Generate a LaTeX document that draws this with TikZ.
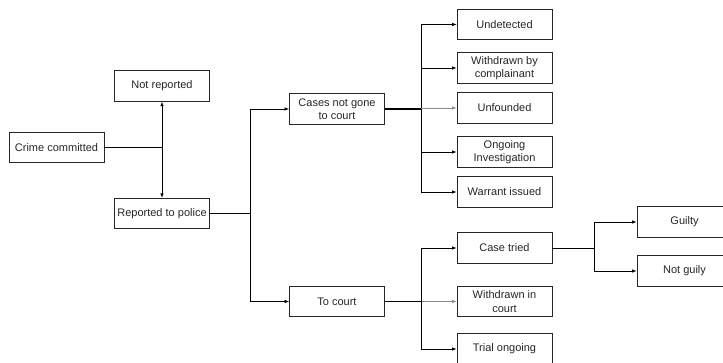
\documentclass[tikz,border=0pt]{standalone}
\usepackage{fontspec}
\setmainfont{Liberation Sans}
\usetikzlibrary{arrows.meta}
\begin{document}
\begin{tikzpicture}[x=1pt,y=-1pt,
  box/.style={draw=black!85,line width=0.8pt,minimum width=95pt,minimum height=30.5pt,
    inner sep=0pt,align=center,text=black!85,font=\fontsize{11}{13.5}\selectfont},
  trunk/.style={line width=1.2pt,black},
  branch/.style={line width=0.7pt,black,-{Latex[length=4.5pt,width=3.5pt]}},
  faint/.style={branch,draw=black!45},
  plain/.style={line width=0.7pt,black}]
\useasboundingbox (0,0) rectangle (723,363);
\node[box] (crime) at (56.5,147.5) {Crime committed};
\node[box] (notrep) at (162,86) {Not reported};
\node[box] (reported) at (162,213.5) {Reported to police};
\node[box] (cases) at (337,109) {Cases not gone\\to court};
\node[box] (tocourt) at (337,301.5) {To court};
\node[box] (undet) at (504.5,24.5) {Undetected};
\node[box] (wbc) at (504.5,68) {Withdrawn by\\complainant};
\node[box] (unf) at (504.5,108) {Unfounded};
\node[box] (ongo) at (504.5,152) {Ongoing\\Investigation};
\node[box] (warr) at (504.5,192) {Warrant issued};
\node[box] (tried) at (504.5,248) {Case tried};
\node[box] (wic) at (504.5,301.5) {Withdrawn in\\court};
\node[box] (trialong) at (504.5,349) {Trial ongoing};
\node[box] (guilty) at (684.5,222) {Guilty};
\node[box] (notg) at (684.5,271) {Not guily};
% junctions
\coordinate (j1) at (notrep.south |- crime.east);
\coordinate (j2) at (250,213.5);
\coordinate (j3) at (421,109);
\coordinate (j4) at (421,301.5);
\coordinate (j5) at (594,248);
% connectors
\draw[trunk] (crime.east) -- (j1);
\draw[branch] (j1) -- (notrep.south);
\draw[branch] (j1) -- (reported.north);
\draw[trunk] (reported.east) -- (j2);
\draw[branch] (j2) |- (cases.west);
\draw[branch] (j2) |- (tocourt.west);
\draw[trunk] (cases.east) -- (j3);
\draw[branch] (j3) |- (undet.west);
\draw[branch] (j3) |- (wbc.west);
\draw[faint] (j3) |- (unf.west);
\draw[branch] (j3) |- (ongo.west);
\draw[branch] (j3) |- (warr.west);
\draw[trunk] (tocourt.east) -- (j4);
\draw[branch] (j4) |- (tried.west);
\draw[faint] (j4) -- (wic.west);
\draw[branch] (j4) |- (trialong.west);
\draw[plain] (tried.east) -- (j5);
\draw[branch] (j5) |- (guilty.west);
\draw[branch] (j5) |- (notg.west);
\end{tikzpicture}
\end{document}
